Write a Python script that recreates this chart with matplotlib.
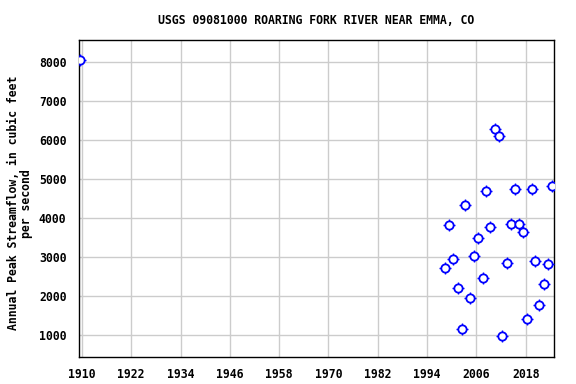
import numpy as np
import matplotlib
matplotlib.use("Agg")
import matplotlib.pyplot as plt

# peak dates as decimal years (peaks fall around late spring)
peak_dates = [1909.6, 1998.4, 1999.4, 2000.3, 2001.5, 2002.4, 2003.3, 2004.5,
              2005.5, 2006.5, 2007.5, 2008.4, 2009.4, 2010.4, 2011.6, 2012.3,
              2013.5, 2014.4, 2015.5, 2016.4, 2017.4, 2018.4, 2019.4, 2020.3,
              2021.3, 2022.5, 2023.4, 2024.4]
peak_flow = [8050, 2720, 3800, 2940, 2200, 1130, 4330, 1940,
             3025, 3475, 2455, 4675, 3750, 6275, 6100, 950,
             2840, 3845, 4745, 3830, 3620, 1410, 4745, 2890,
             1770, 2300, 2820, 4820]

xticks = [1910, 1922, 1934, 1946, 1958, 1970, 1982, 1994, 2006, 2018]
yticks = [1000, 2000, 3000, 4000, 5000, 6000, 7000, 8000]

plt.rcParams['font.family'] = ['DejaVu Sans Mono']
plt.rcParams['font.weight'] = 'bold'
plt.rcParams['font.size'] = 8.3

fig = plt.figure(figsize=(5.76, 3.84), dpi=100)
ax = fig.add_axes([0.137, 0.071, 0.825, 0.826])

ax.plot(peak_dates, peak_flow, ls='none', marker='+', ms=9, mew=1.0,
        color='blue', zorder=3)
ax.plot(peak_dates, peak_flow, ls='none', marker='o', ms=6, mew=1.3,
        mec='blue', mfc='white', zorder=4)

ax.set_xlim(1909.27, 2024.9)
ax.set_ylim(430, 8573)
ax.set_xticks(xticks)
ax.set_yticks(yticks)
ax.grid(True, color='#cccccc', lw=1)
ax.set_axisbelow(True)
ax.tick_params(length=0, pad=9)
ax.tick_params(axis='x', pad=8)
for s in ax.spines.values():
    s.set_linewidth(1)
    s.set_color('black')

ax.set_title('USGS 09081000 ROARING FORK RIVER NEAR EMMA, CO',
             fontsize=8.3, fontweight='bold', pad=11)
fig.text(20 / 576, 0.471, 'Annual Peak Streamflow, in cubic feet\nper second',
         rotation=90, ha='center', va='center', fontsize=8.3,
         fontweight='bold', linespacing=0.95, multialignment='center')

fig.savefig('out.png', dpi=100)
